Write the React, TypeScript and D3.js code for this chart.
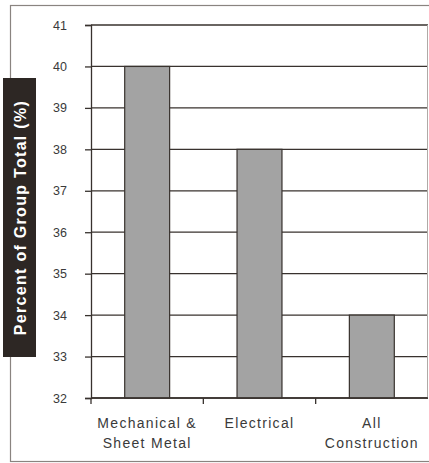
import * as d3 from "d3";
import { useEffect, useRef } from "react";

const categories = ["Mechanical & Sheet Metal", "Electrical", "All Construction"];
const categoryLines = [["Mechanical &", "Sheet Metal"], ["Electrical"], ["All", "Construction"]];
const values = [40, 38, 34];
const yTicks = [32, 33, 34, 35, 36, 37, 38, 39, 40, 41];
const yLabel = "Percent of Group Total (%)";

const App = () => {
  const svgRef = useRef<SVGSVGElement | null>(null);

  useEffect(() => {
    const width = 429;
    const height = 463;
    const margin = { top: 25, right: 1, bottom: 65, left: 91 };
    const ink = "#38322e";

    d3.select(svgRef.current).selectAll("*").remove();
    const svg = d3
      .select(svgRef.current)
      .attr("width", width)
      .attr("height", height);

    // outer frame
    svg
      .append("rect")
      .attr("x", 10.5)
      .attr("y", 5.5)
      .attr("width", width + 10)
      .attr("height", height - 7)
      .attr("fill", "white")
      .attr("stroke", "#8a8480")
      .attr("stroke-width", 1.2);

    const x = d3
      .scaleBand<string>()
      .domain(categories)
      .range([margin.left, width - margin.right])
      .paddingInner(0.6)
      .paddingOuter(0.3);

    const y = d3
      .scaleLinear()
      .domain([32, 41])
      .range([height - margin.bottom, margin.top]);

    const g = svg.append("g");

    // gridlines
    g.selectAll(".grid")
      .data(yTicks)
      .enter()
      .append("line")
      .attr("x1", margin.left)
      .attr("x2", width - margin.right)
      .attr("y1", (d) => y(d))
      .attr("y2", (d) => y(d))
      .attr("stroke", ink)
      .attr("stroke-width", 1.3);

    // plot right border
    g.append("line")
      .attr("x1", width - margin.right - 0.5)
      .attr("x2", width - margin.right - 0.5)
      .attr("y1", margin.top)
      .attr("y2", height - margin.bottom)
      .attr("stroke", "#b0aaa6")
      .attr("stroke-width", 1);

    // bars
    g.selectAll(".bar")
      .data(values)
      .enter()
      .append("rect")
      .attr("x", (_, i) => x(categories[i]) as number)
      .attr("y", (d) => y(d))
      .attr("width", x.bandwidth())
      .attr("height", (d) => y(32) - y(d))
      .attr("fill", "#a3a3a3")
      .attr("stroke", ink)
      .attr("stroke-width", 1.2);

    // y axis
    const yAxis = d3.axisLeft(y).tickValues(yTicks).tickSize(6).tickPadding(18).tickFormat(d3.format("d"));
    const gY = g
      .append("g")
      .attr("transform", `translate(${margin.left},0)`)
      .call(yAxis);
    gY.select(".domain").attr("stroke", ink).attr("stroke-width", 1.3);
    gY.selectAll(".tick line").attr("stroke", ink).attr("stroke-width", 1.3);
    gY.selectAll(".tick text")
      .attr("fill", "#3a3a3a")
      .style("font-family", "'Liberation Sans', Arial, sans-serif")
      .style("font-size", "12.5px");

    // x axis
    const gX = g
      .append("g")
      .attr("transform", `translate(0,${height - margin.bottom})`);
    gX.append("line")
      .attr("x1", margin.left)
      .attr("x2", width - margin.right)
      .attr("stroke", ink)
      .attr("stroke-width", 1.3);
    const step = x.step();
    gX.selectAll(".xtick")
      .data(d3.range(categories.length))
      .enter()
      .append("line")
      .attr("x1", (i) => margin.left + step * i)
      .attr("x2", (i) => margin.left + step * i)
      .attr("y1", 0)
      .attr("y2", 6)
      .attr("stroke", ink)
      .attr("stroke-width", 1.3);

    const labels = gX
      .selectAll(".xlabel")
      .data(categoryLines)
      .enter()
      .append("text")
      .attr("text-anchor", "middle")
      .attr("fill", "#3a3a3a")
      .style("font-family", "'Liberation Sans', Arial, sans-serif")
      .style("font-size", "14px")
      .style("letter-spacing", "1.3px");
    labels
      .selectAll("tspan")
      .data((d, i) => d.map((t) => ({ t, i })))
      .enter()
      .append("tspan")
      .attr("x", (d) => (x(categories[d.i]) as number) + x.bandwidth() / 2)
      .attr("y", (_, j) => 30 + j * 20)
      .text((d) => d.t);

    // y label box
    const boxTop = 78;
    const boxBottom = 357;
    svg
      .append("rect")
      .attr("x", 3)
      .attr("y", boxTop)
      .attr("width", 33)
      .attr("height", boxBottom - boxTop)
      .attr("fill", "#2d2724");
    svg
      .append("text")
      .attr("transform", `translate(25.5,${(boxTop + boxBottom) / 2}) rotate(-90)`)
      .attr("text-anchor", "middle")
      .attr("fill", "white")
      .style("font-family", "'Liberation Sans', Arial, sans-serif")
      .style("font-size", "16px")
      .style("font-weight", "bold")
      .style("letter-spacing", "1.3px")
      .text(yLabel);
  }, []);

  return (
    <div style={{ position: "absolute", left: 0, top: 0 }}>
      <svg ref={svgRef} style={{ display: "block" }}></svg>
    </div>
  );
};

export default App;
